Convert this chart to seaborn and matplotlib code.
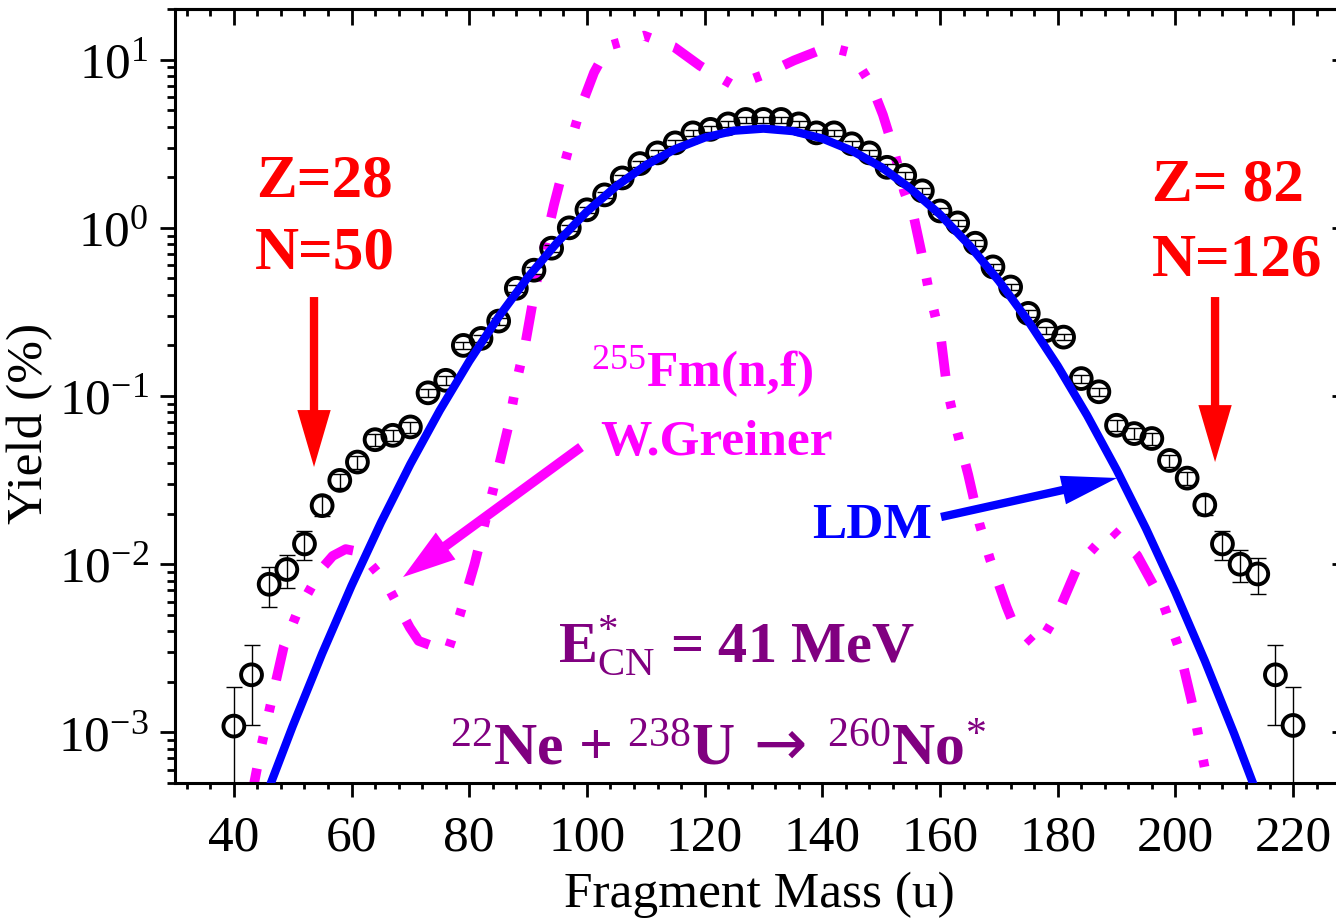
import matplotlib
matplotlib.use("Agg")
import matplotlib.pyplot as plt
import seaborn as sns
import pandas as pd
from matplotlib.ticker import MultipleLocator, LogLocator, LogFormatterSciNotation, NullFormatter

# ---------------- data ----------------
mass = [40, 43, 46, 49, 52, 55, 58, 61, 64, 67, 70, 73, 76, 79, 82, 85, 88, 91, 94, 97,
        100, 103, 106, 109, 112, 115, 118, 121, 124, 127, 130, 133, 136, 139, 142, 145,
        148, 151, 154, 157, 160, 163, 166, 169, 172, 175, 178, 181, 184, 187, 190, 193,
        196, 199, 202, 205, 208, 211, 214, 217, 220]
yield_exp = [1.09e-3, 2.2e-3, 7.6e-3, 9.3e-3, 1.32e-2, 2.23e-2, 3.15e-2, 4.05e-2, 5.5e-2,
             5.84e-2, 6.55e-2, 0.1045, 0.124, 0.20, 0.22, 0.279, 0.437, 0.56, 0.757, 1.0,
             1.28, 1.57, 1.98, 2.41, 2.79, 3.2, 3.67, 3.85, 4.15, 4.41, 4.41, 4.41, 4.15,
             3.67, 3.67, 3.16, 2.79, 2.29, 2.05, 1.66, 1.26, 1.07, 0.81, 0.586, 0.445, 0.31,
             0.245, 0.224, 0.127, 0.106, 0.067, 0.0598, 0.0559, 0.0414, 0.0325, 0.0225,
             0.0132, 0.0100, 0.00875, 2.2e-3, 1.1e-3]
yield_err = [0.77e-3, 1.1e-3, 2.0e-3, 2.1e-3, 2.6e-3, 3.0e-3, 3.0e-3, 3.5e-3, 4.5e-3,
             4.5e-3, 5.0e-3, 6e-3, 7e-3, 0.010, 0.011, 0.014, 0.020, 0.025, 0.035, 0.045,
             0.055, 0.07, 0.09, 0.10, 0.12, 0.13, 0.15, 0.16, 0.17, 0.18, 0.18, 0.18, 0.17,
             0.16, 0.15, 0.13, 0.12, 0.10, 0.09, 0.07, 0.055, 0.045, 0.035, 0.025, 0.020,
             0.014, 0.011, 0.010, 7e-3, 6e-3, 5.0e-3, 4.5e-3, 4.5e-3, 3.5e-3, 3.0e-3,
             3.0e-3, 2.6e-3, 2.2e-3, 2.1e-3, 1.1e-3, 0.77e-3]

ldm_mass = [46, 50, 55, 60, 65, 70, 75, 80, 85, 90, 95, 100, 105, 110, 115, 120, 125, 130,
            135, 140, 145, 150, 155, 160, 165, 170, 175, 180, 185, 190, 195, 200, 205, 210, 214]
ldm_yield = [4.7e-4, 1.09e-3, 2.94e-3, 7.45e-3, 1.77e-2, 3.94e-2, 8.22e-2, 0.161, 0.296,
             0.510, 0.822, 1.25, 1.77, 2.36, 2.94, 3.44, 3.78, 3.89, 3.76, 3.40, 2.88, 2.30,
             1.71, 1.20, 0.787, 0.484, 0.279, 0.151, 7.67e-2, 3.65e-2, 1.63e-2, 6.81e-3,
             2.67e-3, 9.8e-4, 4.2e-4]

greiner_mass = [43.0, 43.5, 44.7, 46.6, 48.5, 50.8, 54.9, 56.8, 59.0, 61.5, 65.8, 69.9, 71.4,
                75.5, 76.3, 78.4, 80.9, 84.5, 86.6, 88.2, 89.6, 91.3, 94.4, 96.6, 99.0,
                101.2, 103.7, 109.7, 114.8, 119.2, 125.0, 129.9, 135.2, 141.0, 144.9, 148.3,
                150.3, 152.2, 153.9, 155.6, 156.8, 158.0, 160.2, 161.2, 162.6, 164.8, 166.7,
                168.5, 171.3, 172.4, 176.5, 180.1, 183.5, 189.1, 193.5, 197.8, 200.7, 202.7,
                203.9, 205.5, 206.2]
greiner_yield = [3.8e-4, 5.1e-4, 8.4e-4, 1.66e-3, 3.26e-3, 5.2e-3, 9.4e-3, 1.12e-2, 1.23e-2,
                 1.18e-2, 7.8e-3, 4.2e-3, 3.5e-3, 3.1e-3, 3.0e-3, 5.0e-3, 1.0e-2, 3.2e-2,
                 6.5e-2, 0.129, 0.211, 0.456, 1.37, 2.72, 5.25, 8.37, 12.1, 13.9, 11.9, 9.2,
                 7.0, 8.1, 9.9, 11.9, 11.0, 7.1, 4.7, 2.87, 1.65, 1.14, 0.726, 0.443, 0.214,
                 0.111, 0.0676, 0.034, 0.0174, 0.0107, 5.6e-3, 4.5e-3, 3.2e-3, 5.2e-3,
                 9.9e-3, 1.62e-2, 1.13e-2, 6.0e-3, 3.1e-3, 1.57e-3, 9.6e-4, 5.0e-4, 3.6e-4]

xticks_major = [40, 60, 80, 100, 120, 140, 160, 180, 200, 220]

# ---------------- style ----------------
sns.set_theme(style="ticks", rc={
    "axes.edgecolor": "black", "xtick.color": "black", "ytick.color": "black",
    "text.color": "black", "axes.labelcolor": "black",
})
plt.rcParams["font.family"] = ["Liberation Serif", "DejaVu Serif"]
plt.rcParams.update({
    "mathtext.fontset": "custom",
    "mathtext.rm": "Liberation Serif",
    "mathtext.bf": "Liberation Serif:bold",
    "mathtext.it": "Liberation Serif:italic",
    "axes.unicode_minus": False,
})

fig = plt.figure(figsize=(13.36, 9.21), dpi=100)
ax = fig.add_axes([0.1310, 0.1498, 0.8743, 0.8404])

df_exp = pd.DataFrame({"mass": mass, "yield": yield_exp, "err": yield_err})
df_ldm = pd.DataFrame({"mass": ldm_mass, "yield": ldm_yield})
df_gr = pd.DataFrame({"mass": greiner_mass, "yield": greiner_yield})

# Greiner 255Fm(n,f) dash-dot-dot curve
sns.lineplot(data=df_gr, x="mass", y="yield", ax=ax, color="#FF00FF", lw=7,
             sort=False, estimator=None, zorder=2)
gline = ax.lines[-1]
gline.set_linestyle((0, (3.6, 2.6, 0.75, 2.6, 0.75, 2.6)))
gline.set_dash_capstyle("butt")

# experimental points with error bars
ax.errorbar(df_exp["mass"], df_exp["yield"], yerr=df_exp["err"], fmt="none",
            ecolor="black", elinewidth=1.0, capsize=5.5, capthick=1.0, zorder=3)
sns.scatterplot(data=df_exp, x="mass", y="yield", ax=ax, marker="o", s=15 ** 2,
                color="black", facecolor="none", edgecolor="black", linewidth=2.8,
                zorder=4)

# LDM curve
sns.lineplot(data=df_ldm, x="mass", y="yield", ax=ax, color="#0000FF", lw=6,
             sort=False, estimator=None, zorder=5)

# ---------------- axes ----------------
ax.set_yscale("log")
ax.set_xlim(30, 228.5)
ax.set_ylim(5e-4, 20)
ax.xaxis.set_major_locator(MultipleLocator(20))
ax.xaxis.set_minor_locator(MultipleLocator(4))
ax.set_xticks(xticks_major)
ax.yaxis.set_major_locator(LogLocator(base=10, numticks=20))
ax.yaxis.set_minor_locator(LogLocator(base=10, subs=range(2, 10), numticks=20))
ax.yaxis.set_major_formatter(LogFormatterSciNotation())
ax.yaxis.set_minor_formatter(NullFormatter())

ax.tick_params(axis="both", which="major", direction="out", width=2, labelsize=37)
ax.tick_params(axis="x", which="major", length=10, pad=13)
ax.tick_params(axis="x", which="minor", direction="out", length=4.5, width=2)
ax.tick_params(axis="y", which="major", length=11, pad=8)
ax.tick_params(axis="y", which="minor", direction="out", length=5.5, width=2)
for s in ax.spines.values():
    s.set_linewidth(2.2)
    s.set_visible(True)

secx = ax.secondary_xaxis("top")
secx.xaxis.set_major_locator(MultipleLocator(20))
secx.xaxis.set_minor_locator(MultipleLocator(4))
secx.tick_params(axis="x", which="major", direction="in", length=11.5, width=2, labeltop=False)
secx.tick_params(axis="x", which="minor", direction="in", length=5, width=2)
secx.spines["top"].set_linewidth(2.2)

secy = ax.secondary_yaxis("right")
secy.yaxis.set_major_locator(LogLocator(base=10, numticks=20))
secy.yaxis.set_minor_locator(LogLocator(base=10, subs=range(2, 10), numticks=20))
secy.tick_params(axis="y", which="major", direction="in", length=8, width=2, labelright=False)
secy.tick_params(axis="y", which="minor", direction="in", length=4, width=2, labelright=False)
secy.yaxis.set_minor_formatter(NullFormatter())
secy.spines["right"].set_linewidth(2.2)

ax.set_xlabel("Fragment Mass (u)", fontsize=37)
ax.set_ylabel("Yield (%)", fontsize=37)
ax.xaxis.set_label_coords(0.5, -0.114)
ax.yaxis.set_label_coords(-0.1045, 0.465)

# ---------------- annotations ----------------
red = "#FF0000"
mag = "#FF00FF"
blue = "#0000FF"
purple = "#800080"
tr = ax.transAxes

ax.text(0.1276, 0.758, "Z=28", transform=tr, color=red, fontsize=44, fontweight="bold",
        ha="center", va="baseline", zorder=7)
ax.text(0.1284, 0.665, "N=50", transform=tr, color=red, fontsize=44, fontweight="bold",
        ha="center", va="baseline", zorder=7)
ax.text(0.9011, 0.753, "Z= 82", transform=tr, color=red, fontsize=44, fontweight="bold",
        ha="center", va="baseline", zorder=7)
ax.text(0.9092, 0.656, "N=126", transform=tr, color=red, fontsize=44, fontweight="bold",
        ha="center", va="baseline", zorder=7)

ax.text(0.4512, 0.512, r"$^{255}$Fm(n,f)", transform=tr, color=mag, fontsize=37,
        fontweight="bold", ha="center", va="baseline", zorder=7)
ax.text(0.4640, 0.424, "W.Greiner", transform=tr, color=mag, fontsize=37,
        fontweight="bold", ha="center", va="baseline", zorder=7)
ax.text(0.5967, 0.3165, "LDM", transform=tr, color=blue, fontsize=37,
        fontweight="bold", ha="center", va="baseline", zorder=7)

ax.text(0.3279, 0.1566, r"$\mathbf{E}^{*}_{\mathrm{CN}}$ = 41 MeV", transform=tr,
        color=purple, fontsize=42, fontweight="bold", ha="left", va="baseline", zorder=7)
ax.text(0.2354, 0.0233, r"$^{22}$Ne + $^{238}$U", transform=tr, color=purple,
        fontsize=43, fontweight="bold", ha="left", va="baseline", zorder=7)
ax.text(0.5180, 0.0233, "→", transform=tr, color=purple, fontsize=46,
        family="DejaVu Sans", ha="center", va="baseline", zorder=7)
ax.text(0.5580, 0.0233, r"$^{260}$No$^{*}$", transform=tr, color=purple,
        fontsize=43, fontweight="bold", ha="left", va="baseline", zorder=7)


def arrow(tail, tip, color, hl, hw, tw):
    ax.annotate("", xy=tip, xytext=tail, xycoords="axes fraction",
                textcoords="axes fraction", zorder=6,
                arrowprops=dict(arrowstyle=f"simple,head_length={hl},head_width={hw},tail_width={tw}",
                                mutation_scale=1, color=color, shrinkA=0, shrinkB=0, lw=0))


arrow((0.1190, 0.6279), (0.1190, 0.4083), red, 41, 24, 6)
arrow((0.8904, 0.6279), (0.8904, 0.4147), red, 41, 24, 6)
arrow((0.3476, 0.4341), (0.1952, 0.2661), mag, 38, 24, 7)
arrow((0.6558, 0.3437), (0.8065, 0.3941), blue, 40, 21, 6)

fig.savefig("out.png", dpi=100)
